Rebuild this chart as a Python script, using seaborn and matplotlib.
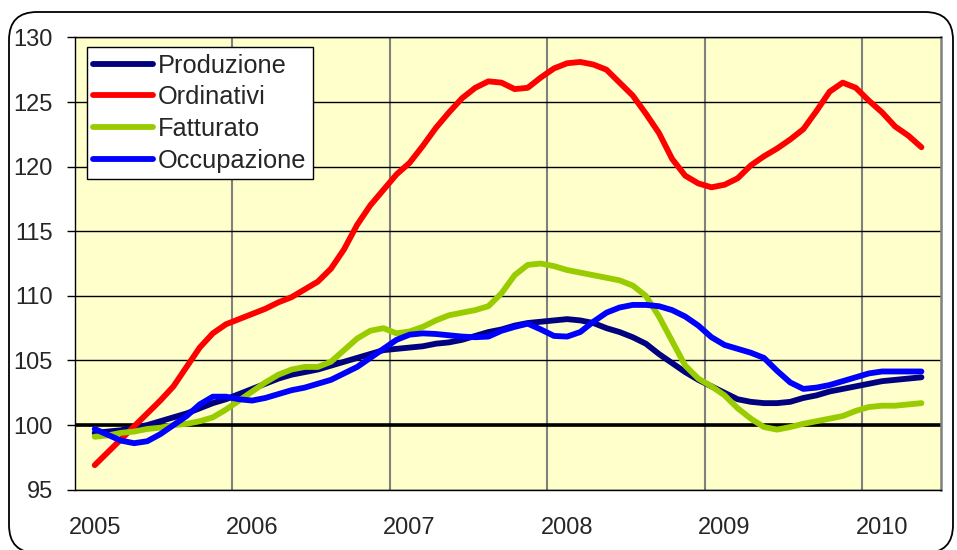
import pandas as pd
import seaborn as sns
import matplotlib.pyplot as plt
from matplotlib.patches import FancyBboxPatch

# monthly index values, Jan 2005 -> Apr 2010
produzione = [99.4, 99.5, 99.6, 99.8, 100.0, 100.3, 100.6, 100.9, 101.3, 101.7,
              102.0, 102.4, 102.8, 103.2, 103.6, 103.9, 104.1, 104.3, 104.6, 104.9,
              105.2, 105.5, 105.8, 105.9, 106.0, 106.1, 106.3, 106.4, 106.6, 106.9,
              107.2, 107.4, 107.7, 107.9, 108.0, 108.1, 108.2, 108.1, 107.9, 107.5,
              107.2, 106.8, 106.3, 105.5, 104.8, 104.1, 103.5, 103.0, 102.5, 102.0,
              101.8, 101.7, 101.7, 101.8, 102.1, 102.3, 102.6, 102.8, 103.0, 103.2,
              103.4, 103.5, 103.6, 103.7]
ordinativi = [96.9, 97.9, 98.9, 99.9, 100.9, 101.9, 103.0, 104.5, 106.0, 107.1,
              107.8, 108.2, 108.6, 109.0, 109.5, 109.9, 110.5, 111.1, 112.1, 113.6,
              115.5, 117.0, 118.2, 119.4, 120.3, 121.6, 123.0, 124.2, 125.3, 126.1,
              126.6, 126.5, 126.0, 126.1, 126.9, 127.6, 128.0, 128.1, 127.9, 127.5,
              126.5, 125.5, 124.1, 122.6, 120.6, 119.3, 118.7, 118.4, 118.6, 119.1,
              120.1, 120.8, 121.4, 122.1, 122.9, 124.3, 125.8, 126.5, 126.1, 125.1,
              124.2, 123.1, 122.4, 121.5]
fatturato = [99.1, 99.2, 99.4, 99.5, 99.7, 99.8, 100.0, 100.1, 100.3, 100.6,
             101.2, 101.9, 102.6, 103.3, 103.9, 104.3, 104.5, 104.5, 104.9, 105.8,
             106.7, 107.3, 107.5, 107.1, 107.25, 107.6, 108.1, 108.5, 108.7, 108.9,
             109.2, 110.2, 111.6, 112.4, 112.5, 112.3, 112.0, 111.8, 111.6, 111.4,
             111.2, 110.8, 110.0, 108.4, 106.5, 104.6, 103.6, 103.0, 102.3, 101.3,
             100.5, 99.85, 99.65, 99.85, 100.1, 100.3, 100.5, 100.7, 101.1, 101.4,
             101.5, 101.5, 101.6, 101.7]
occupazione = [99.7, 99.25, 98.8, 98.6, 98.75, 99.3, 100.0, 100.7, 101.6, 102.2,
               102.2, 102.0, 101.9, 102.1, 102.4, 102.7, 102.9, 103.2, 103.5, 104.0,
               104.5, 105.2, 105.9, 106.6, 107.0, 107.1, 107.05, 106.95, 106.85, 106.8,
               106.85, 107.3, 107.6, 107.85, 107.4, 106.9, 106.85, 107.2, 108.0, 108.7,
               109.1, 109.3, 109.3, 109.2, 108.9, 108.4, 107.7, 106.8, 106.2, 105.9,
               105.6, 105.2, 104.2, 103.3, 102.8, 102.9, 103.1, 103.4, 103.7, 104.0,
               104.15, 104.15, 104.15, 104.15]
anni = ["2005", "2006", "2007", "2008", "2009", "2010"]

serie = {"Produzione": produzione, "Ordinativi": ordinativi,
         "Fatturato": fatturato, "Occupazione": occupazione}
colori = {"Produzione": "#000080", "Ordinativi": "#FF0000",
          "Fatturato": "#99CC00", "Occupazione": "#0000FF"}

df = pd.concat([pd.DataFrame({"mese": range(len(v)), "indice": v, "serie": k})
                for k, v in serie.items()])

sns.set_style("white")
plt.rcParams["font.family"] = ["Liberation Sans", "DejaVu Sans"]

fig = plt.figure(figsize=(9.57, 5.5), dpi=100)
ax = fig.add_axes([0.0784, 0.1096, 0.905, 0.8224])
ax.set_facecolor("#FFFFCC")

sns.lineplot(data=df, x="mese", y="indice", hue="serie", palette=colori,
             linewidth=4.2, ax=ax, solid_capstyle="round", zorder=3)

ax.axhline(100, color="black", lw=2.6, zorder=2)

ax.set_xlim(-1.5, 64.5)
ax.set_ylim(95, 130)
ax.set_yticks(range(95, 131, 5))
ax.set_xticks(range(0, 61, 12))
ax.set_xticklabels(anni)
ax.set_xticks([10.5 + 12 * k for k in range(5)], minor=True)
ax.set_xlabel("")
ax.set_ylabel("")

ax.grid(True, axis="y", which="major", color="black", lw=1)
ax.grid(True, axis="x", which="minor", color="#808080", lw=1.5)
ax.set_axisbelow(True)

ax.tick_params(axis="x", which="both", length=0, pad=20, labelsize=17)
ax.tick_params(axis="y", length=6, width=1, color="black", pad=10,
               labelsize=17, left=True)

for s in ["left", "bottom", "top"]:
    ax.spines[s].set_color("black")
    ax.spines[s].set_linewidth(1)
ax.spines["right"].set_color("#808080")
ax.spines["right"].set_linewidth(1.8)

handles, labels = ax.get_legend_handles_labels()
for h in handles:
    h.set_linewidth(4.2)
    h.set_solid_capstyle("round")
leg = ax.legend(handles, labels, loc="upper left", bbox_to_anchor=(0.0135, 0.978),
                borderaxespad=0, fontsize=18.3, frameon=True, fancybox=False,
                edgecolor="black", framealpha=1, labelspacing=0.3,
                borderpad=0.25, handlelength=2.36, handletextpad=0.2)
leg.get_frame().set_linewidth(1)
leg.set_zorder(5)

# rounded outer border of the chart
fig.patches.append(FancyBboxPatch((0.09, -0.03), 9.44, 5.41,
                                  boxstyle="round,pad=0,rounding_size=0.28",
                                  transform=fig.dpi_scale_trans,
                                  facecolor="none", edgecolor="black", lw=1.3,
                                  clip_on=False))

fig.savefig("out.png", dpi=100)
